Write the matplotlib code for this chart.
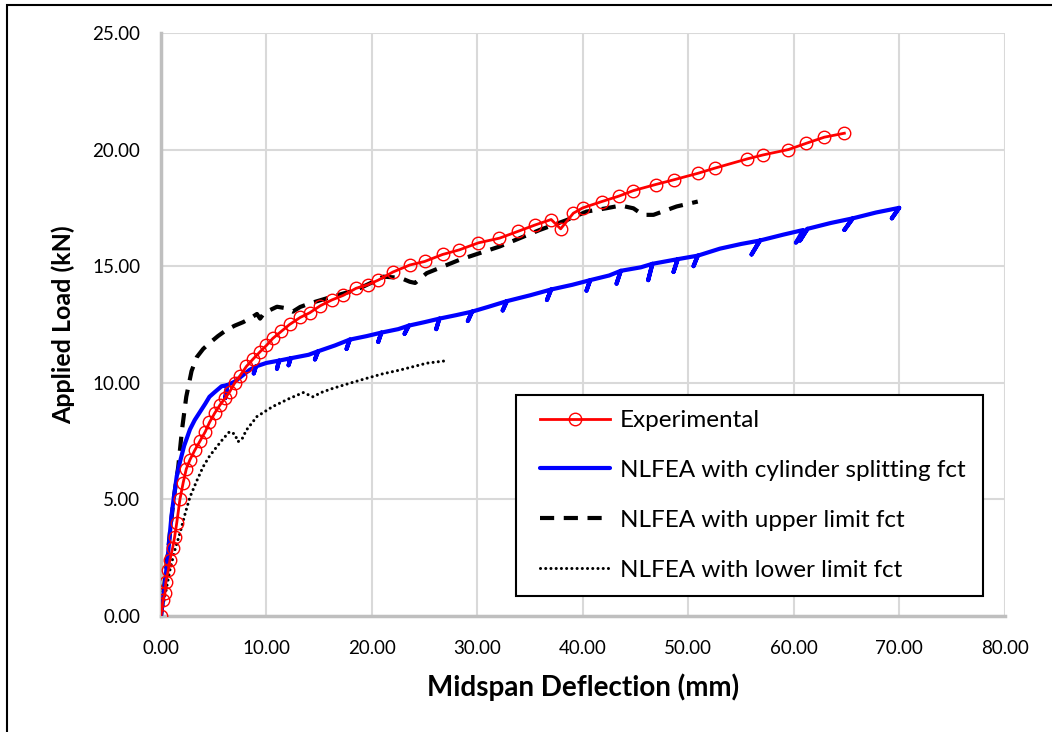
"""Load-deflection curves: experimental vs NLFEA (three fct assumptions)."""
import matplotlib
matplotlib.use("Agg")
import matplotlib.pyplot as plt
from matplotlib.patches import Rectangle

# --- data (deflection mm, load kN) ---
exp_x = [0.0, 0.2, 0.38, 0.47, 0.7, 0.85, 1.1, 1.3, 1.5, 1.8, 2.1, 2.4, 2.75, 3.2, 3.7,
         4.2, 4.6, 5.1, 5.6, 6.1, 6.5, 7.0, 7.5, 8.1, 8.7, 9.4, 10.0, 10.6, 11.4, 12.2,
         13.2, 14.1, 15.1, 16.2, 17.3, 18.5, 19.6, 20.6, 22.0, 23.6, 25.0, 26.7, 28.3,
         30.1, 32.1, 33.9, 35.5, 37.0, 37.9, 39.1, 40.0, 41.8, 43.4, 44.8, 46.9, 48.6,
         50.9, 52.5, 55.6, 57.1, 59.5, 61.2, 62.9, 64.8]
exp_y = [0.0, 0.7, 0.97, 1.47, 1.97, 2.4, 2.9, 3.4, 4.0, 5.0, 5.7, 6.3, 6.7, 7.1, 7.5,
         7.9, 8.3, 8.7, 9.05, 9.35, 9.6, 10.0, 10.3, 10.7, 11.0, 11.33, 11.6, 11.9, 12.2,
         12.5, 12.8, 13.0, 13.3, 13.55, 13.75, 14.05, 14.2, 14.4, 14.75, 15.05, 15.2,
         15.5, 15.7, 16.0, 16.2, 16.5, 16.77, 17.0, 16.6, 17.27, 17.5, 17.77, 18.0, 18.24,
         18.5, 18.7, 18.98, 19.2, 19.6, 19.77, 20.0, 20.27, 20.53, 20.7]

# cylinder splitting fct: saw-tooth drops are kept as (top, bottom, top) triples
cyl_x = [0.0, 0.38, 0.7, 1.0, 1.2, 1.5, 1.8, 2.2, 2.75, 3.2, 3.7, 4.2, 4.6, 5.1, 5.75,
         6.3, 6.1, 6.3, 7.0, 7.7, 8.4, 9.0, 8.8, 9.0, 10.0, 11.2, 11.0, 11.2, 12.3, 12.1,
         12.3, 14.0, 14.9, 14.6, 14.9, 16.5, 17.9, 17.6, 17.9, 19.5, 20.9, 20.6, 20.9,
         22.5, 23.5, 23.1, 23.5, 25.0, 26.4, 26.1, 26.4, 28.0, 29.5, 29.1, 29.5, 31.0,
         32.8, 32.4, 32.8, 35.0, 37.0, 36.6, 37.0, 39.0, 40.7, 40.35, 40.7, 42.5, 43.6,
         43.2, 43.6, 45.5, 46.6, 46.2, 46.6, 47.8, 49.0, 48.6, 49.0, 50.9, 50.5, 50.9,
         53.0, 55.0, 56.8, 56.0, 56.8, 59.0, 60.9, 60.2, 61.3, 60.6, 61.3, 63.5, 65.6,
         64.8, 65.6, 67.8, 70.0, 69.3, 70.0]
cyl_y = [0.0, 1.4, 2.8, 4.3, 5.0, 6.0, 6.6, 7.3, 8.0, 8.4, 8.75, 9.1, 9.4, 9.6, 9.85,
         9.9, 9.35, 9.9, 10.05, 10.3, 10.55, 10.7, 10.4, 10.7, 10.85, 10.95, 10.6, 10.95,
         11.05, 10.75, 11.05, 11.2, 11.35, 11.0, 11.35, 11.6, 11.85, 11.45, 11.85, 12.0,
         12.15, 11.75, 12.15, 12.3, 12.45, 12.1, 12.45, 12.6, 12.75, 12.3, 12.75, 12.9,
         13.05, 12.65, 13.05, 13.25, 13.5, 13.1, 13.5, 13.75, 14.0, 13.55, 14.0, 14.2,
         14.4, 13.95, 14.4, 14.6, 14.8, 14.25, 14.8, 14.95, 15.1, 14.4, 15.1, 15.2, 15.3,
         14.75, 15.3, 15.45, 15.0, 15.45, 15.75, 15.95, 16.1, 15.5, 16.1, 16.35, 16.55,
         16.0, 16.6, 16.1, 16.6, 16.85, 17.05, 16.55, 17.05, 17.3, 17.5, 17.05, 17.5]

upp_x = [0.0, 0.4, 0.85, 1.2, 1.64, 2.0, 2.4, 2.9, 3.4, 4.0, 4.6, 5.4, 6.2, 7.0, 7.8,
         8.6, 9.1, 9.4, 9.8, 11.0, 11.8, 12.5, 13.2, 14.1, 16.3, 18.5, 20.0, 21.1, 22.7,
         23.6, 24.1, 25.2, 28.3, 32.1, 35.9, 38.5, 40.35, 42.2, 43.6, 44.8, 45.7, 46.7,
         48.9, 50.9]
upp_y = [0.0, 1.6, 3.56, 5.0, 6.4, 8.0, 9.4, 10.5, 11.1, 11.45, 11.7, 12.0, 12.26,
         12.45, 12.6, 12.8, 12.95, 12.75, 13.0, 13.26, 13.2, 13.05, 13.25, 13.4, 13.7,
         13.98, 14.3, 14.55, 14.5, 14.33, 14.28, 14.7, 15.27, 15.84, 16.55, 16.98, 17.34,
         17.48, 17.6, 17.48, 17.2, 17.2, 17.56, 17.77]

low_x = [0.0, 0.4, 0.85, 1.3, 1.8, 2.3, 2.75, 3.4, 4.0, 4.6, 5.3, 5.9, 6.5, 7.0, 7.3,
         7.7, 8.1, 9.1, 10.6, 12.2, 13.5, 14.4, 15.3, 16.3, 17.9, 19.5, 21.0, 22.7,
         24.0, 25.2, 26.8]
low_y = [0.0, 0.9, 1.97, 2.8, 3.55, 4.4, 5.1, 5.8, 6.4, 6.85, 7.26, 7.6, 7.9, 7.8, 7.47,
         7.6, 7.97, 8.55, 8.98, 9.33, 9.58, 9.4, 9.6, 9.76, 9.98, 10.19, 10.38, 10.55,
         10.7, 10.84, 10.93]

x_ticks = [0, 10, 20, 30, 40, 50, 60, 70, 80]
y_ticks = [0, 5, 10, 15, 20, 25]

plt.rcParams["font.family"] = ["Lato", "DejaVu Sans"]

fig = plt.figure(figsize=(10.52, 7.32), dpi=100)
ax = fig.add_axes([0.153, 0.1585, 0.802, 0.7965])

# outer chart frame (Excel chart area, cut off at right/bottom)
fig.patches.append(Rectangle((0.0067, -0.05), 1.2, 1.043, transform=fig.transFigure,
                             fill=False, edgecolor="black", lw=1.5))

ax.plot(low_x, low_y, color="black", lw=2.2, ls=(0, (0.01, 1.7)),
        dash_capstyle="round", label="NLFEA with lower limit fct", zorder=3)
ax.plot(upp_x, upp_y, color="black", lw=3.0, ls=(0, (3.4, 2.3)),
        label="NLFEA with upper limit fct", zorder=3)
ax.plot(cyl_x, cyl_y, color="#0000ff", lw=3.0, solid_joinstyle="round",
        solid_capstyle="round", label="NLFEA with cylinder splitting fct", zorder=4)
ax.plot(exp_x, exp_y, color="#ff0000", lw=2.0, marker="o", ms=9, mfc="none",
        mec="#ff0000", mew=1.0, label="Experimental", zorder=5)

ax.set_xlim(0, 80)
ax.set_ylim(0, 25)
ax.set_xticks(x_ticks)
ax.set_yticks(y_ticks)
ax.xaxis.set_major_formatter(lambda v, p: f"{v:.2f}")
ax.yaxis.set_major_formatter(lambda v, p: f"{v:.2f}")
ax.tick_params(length=0, labelsize=13.5)
ax.tick_params(axis="x", pad=17)
ax.tick_params(axis="y", pad=15)
ax.grid(True, color="#d9d9d9", lw=1.5)
ax.set_axisbelow(True)
for s in ["top", "right"]:
    ax.spines[s].set_visible(False)
for s in ["left", "bottom"]:
    ax.spines[s].set_color("#bfbfbf")
    ax.spines[s].set_linewidth(2.5)

ax.set_xlabel("Midspan Deflection (mm)", fontsize=20, fontweight="bold", labelpad=12)
ax.set_ylabel("Applied Load (kN)", fontsize=18, fontweight="bold", labelpad=12)

# legend box drawn separately so its padding can differ horizontally/vertically
ax.add_patch(Rectangle((0.4206, 0.0343), 0.5533, 0.3447, transform=ax.transAxes,
                       facecolor="white", edgecolor="black", lw=1.5, zorder=6))
h, l = ax.get_legend_handles_labels()
leg = ax.legend(h[::-1], l[::-1], loc="center left", bbox_to_anchor=(0.449, 0.2067),
                fontsize=17.5, frameon=False, handlelength=2.9, labelspacing=1.19,
                borderpad=0, handletextpad=0.4, borderaxespad=0)
leg.set_zorder(7)

fig.savefig("out.png", dpi=100)
